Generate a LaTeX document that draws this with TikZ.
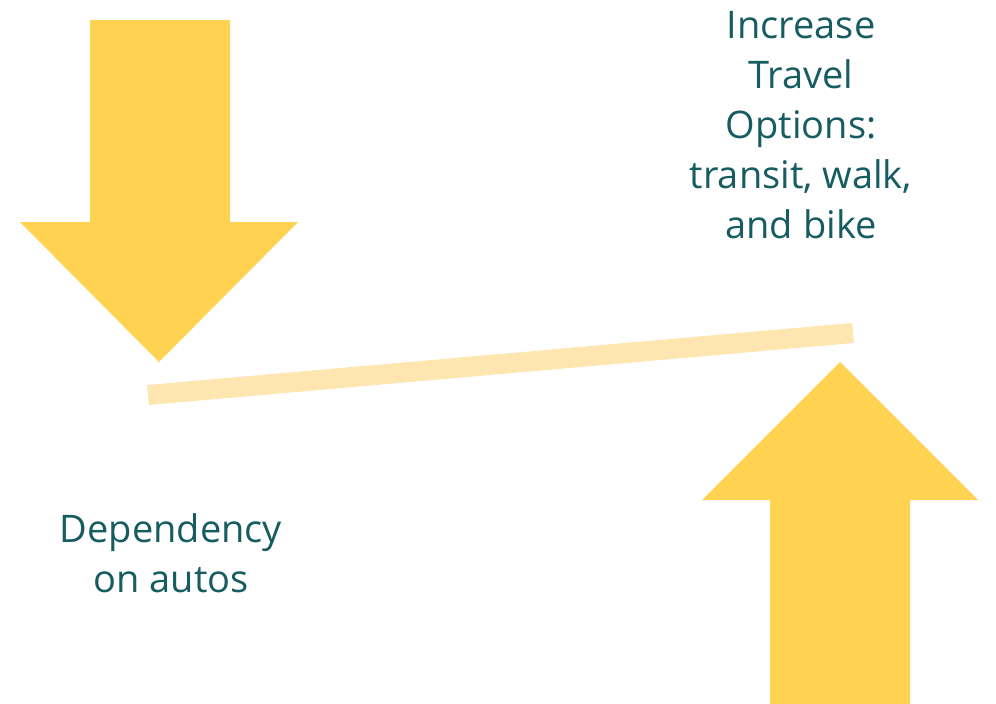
\documentclass[tikz,border=0pt]{standalone}
\usepackage{fontspec}
\setmainfont{Open Sans}
\definecolor{ArrowGold}{RGB}{255,211,81}
\definecolor{BeamGold}{RGB}{255,229,176}
\definecolor{LabelTeal}{RGB}{22,92,96}
\usetikzlibrary{positioning}

\begin{document}
\begin{tikzpicture}[x=1pt, y=-1pt]
    \tikzset{
        bigarrow/.style={fill=ArrowGold, draw=none},
        beam/.style={draw=BeamGold, line width=20pt},
        caption/.style={text=LabelTeal, align=center, font=\fontsize{38}{50}\selectfont,
            inner sep=0pt}
    }
    \useasboundingbox (0,0) rectangle (996,704);
    % downward arrow on the left
    \fill[bigarrow] (90,20) -- (230,20) -- (230,222) -- (298,222) -- (159,362)
        -- (20,222) -- (90,222) -- cycle;
    % upward arrow on the right
    \fill[bigarrow] (770,704) -- (910,704) -- (910,500) -- (978,500) -- (840,362)
        -- (702,500) -- (770,500) -- cycle;
    % tilted beam between them
    \coordinate (beamleft) at (148,395);
    \coordinate (beamright) at (853,333);
    \draw[beam] (beamleft) -- (beamright);
    \node[caption] (options) at (801,125)
        {Increase\\Travel\\Options:\\transit, walk,\\and bike};
    \node[caption] (autos) at (171,553) {Dependency\\on autos};
\end{tikzpicture}
\end{document}
